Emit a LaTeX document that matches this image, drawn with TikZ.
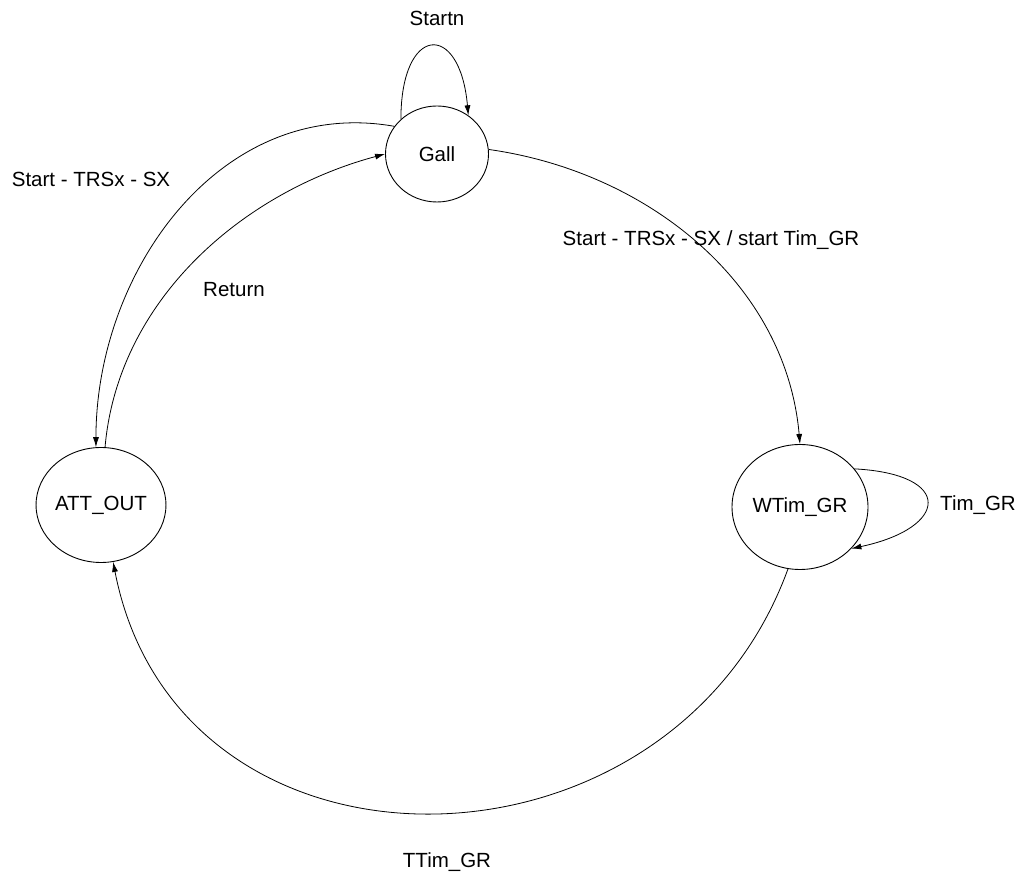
\documentclass[tikz,border=0pt]{standalone}
\usepackage{fontspec}
\setmainfont{Liberation Sans}
\usetikzlibrary{shapes.geometric, arrows.meta}

\begin{document}
\begin{tikzpicture}[x=1pt,y=1pt,font=\fontsize{20.5}{24}\selectfont,
  stnode/.style={ellipse,draw,line width=0.9pt,inner sep=0pt},
  trans/.style={->,>={Latex[length=10pt,width=6pt]},line width=0.8pt}]
  \useasboundingbox (0,0) rectangle (1020,878);
  \node[stnode,minimum width=103pt,minimum height=96pt] (gall) at (437,724) {Gall}; %状態
  \node[stnode,minimum width=136pt,minimum height=125pt] (wtim) at (800,371) {WTim\_GR}; %状態
  \node[stnode,minimum width=125pt,minimum height=115pt] (attout) at (101,373) {ATT\_OUT}; %状態
  \node (lstartn) at (437,860) {Startn}; %ラベル
  \node (lgoto) at (711,638) {Start - TRSx - SX / start Tim\_GR};
  \node (lgoout) at (91,699) {Start - TRSx - SX};
  \node (lreturn) at (234,588) {Return};
  \node (ltim) at (978,373) {Tim\_GR};
  \node (lttim) at (447,16) {TTim\_GR};
  \draw[trans] (gall.136) to[out=90,in=95,looseness=3.6] (gall.51); %自己ループ
  \draw[trans] (gall.5) to[out=-8,in=95,looseness=0.96] (wtim.north);
  \draw[trans] (gall.147) to[out=170,in=90,looseness=1.03] (attout.95);
  \draw[trans] (attout.86) to[out=85,in=195,looseness=0.93] (gall.west);
  \draw[trans] (wtim.35) to[out=-3,in=12,looseness=3.2] (wtim.-39); %自己ループ
  \draw[trans] (wtim.259) to[out=250,in=-79,looseness=1.3] (attout.282);
\end{tikzpicture}
\end{document}
